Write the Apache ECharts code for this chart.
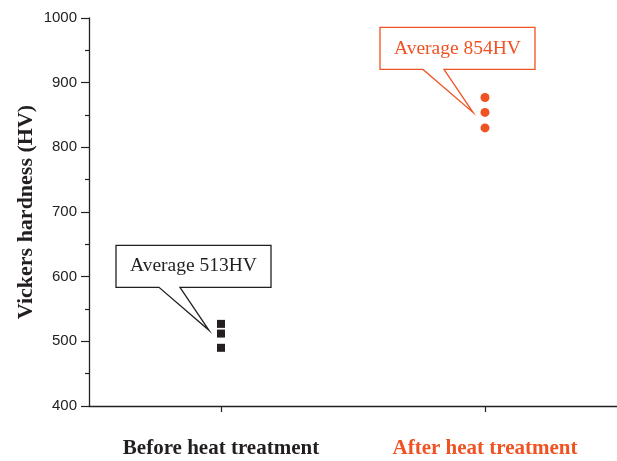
<!DOCTYPE html>
<html>
<head>
<meta charset="utf-8">
<script src="https://cdn.jsdelivr.net/npm/echarts@6/dist/echarts.min.js"></script>
<style>
html,body{margin:0;padding:0;background:#fff;}
#c{width:617px;height:461px;}
</style>
</head>
<body>
<div id="c"></div>
<script>
const categories = ['Before heat treatment', 'After heat treatment'];
const beforeValues = [527, 512, 490];
const afterValues = [877, 854, 830];
const calloutTexts = ['Average 513HV', 'Average 854HV'];
const calloutTips = [517, 854];
const yTicks = [400, 500, 600, 700, 800, 900, 1000];

const RED = '#ef5323';
const BLACK = '#231f20';
const colors = [BLACK, RED];

const chart = echarts.init(document.getElementById('c'));
chart.setOption({
  animation: false,
  grid: { left: 89, right: 0, top: 18, bottom: 55 },
  xAxis: {
    type: 'category',
    data: categories,
    boundaryGap: true,
    axisLine: { lineStyle: { color: '#222', width: 1.3 } },
    axisTick: { show: true, alignWithLabel: true, length: 6, lineStyle: { color: '#222', width: 1.2 } },
    axisLabel: {
      margin: 32,
      formatter: function (v, i) { return i === 0 ? '{a|' + v + '}' : '{b|' + v + '}'; },
      rich: {
        a: { fontFamily: 'Liberation Serif', fontWeight: 'bold', fontSize: 21, color: BLACK },
        b: { fontFamily: 'Liberation Serif', fontWeight: 'bold', fontSize: 21, color: RED }
      }
    },
    splitLine: { show: false }
  },
  yAxis: {
    type: 'value',
    min: yTicks[0],
    max: yTicks[yTicks.length - 1],
    interval: 100,
    name: 'Vickers hardness (HV)',
    nameLocation: 'middle',
    nameGap: 52,
    nameMoveOverlap: false,
    nameTextStyle: { fontFamily: 'Liberation Serif', fontWeight: 'bold', fontSize: 22, color: BLACK },
    axisLine: { show: true, lineStyle: { color: '#222', width: 1.3 } },
    axisTick: { show: true, length: 8, lineStyle: { color: '#222', width: 1.2 } },
    minorTick: { show: true, splitNumber: 2, length: 4, lineStyle: { color: '#222', width: 1.2 } },
    axisLabel: { margin: 12, fontFamily: 'Liberation Sans', fontSize: 15, color: '#222', formatter: function (v) { return String(v); } },
    splitLine: { show: false }
  },
  series: [
    {
      type: 'scatter',
      symbol: 'rect',
      symbolSize: 8,
      itemStyle: { color: BLACK, opacity: 1 },
      data: beforeValues.map(v => [0, v])
    },
    {
      type: 'scatter',
      symbol: 'circle',
      symbolSize: 9,
      itemStyle: { color: RED, opacity: 1 },
      data: afterValues.map(v => [1, v])
    },
    {
      type: 'custom',
      z: 10,
      data: calloutTips.map((v, i) => [i, v]),
      renderItem: function (params, api) {
        const i = params.dataIndex;
        const p = api.coord([api.value(0), api.value(1)]);
        const tx = p[0] - 12, ty = p[1];
        const L = tx - 93, R = tx + 62, T = ty - 85, B = ty - 43;
        const c = colors[i];
        return {
          type: 'group',
          children: [
            {
              type: 'polygon',
              shape: { points: [[L, T], [R, T], [R, B], [tx - 29, B], [tx, ty], [tx - 50, B], [L, B]] },
              style: { fill: '#fff', stroke: c, lineWidth: 1.3 }
            },
            {
              type: 'text',
              style: {
                text: calloutTexts[i],
                x: (L + R) / 2, y: (T + B) / 2,
                align: 'center', verticalAlign: 'middle',
                fontFamily: 'Liberation Serif', fontSize: 19.5, fill: c
              }
            }
          ]
        };
      }
    }
  ]
});
</script>
</body>
</html>
